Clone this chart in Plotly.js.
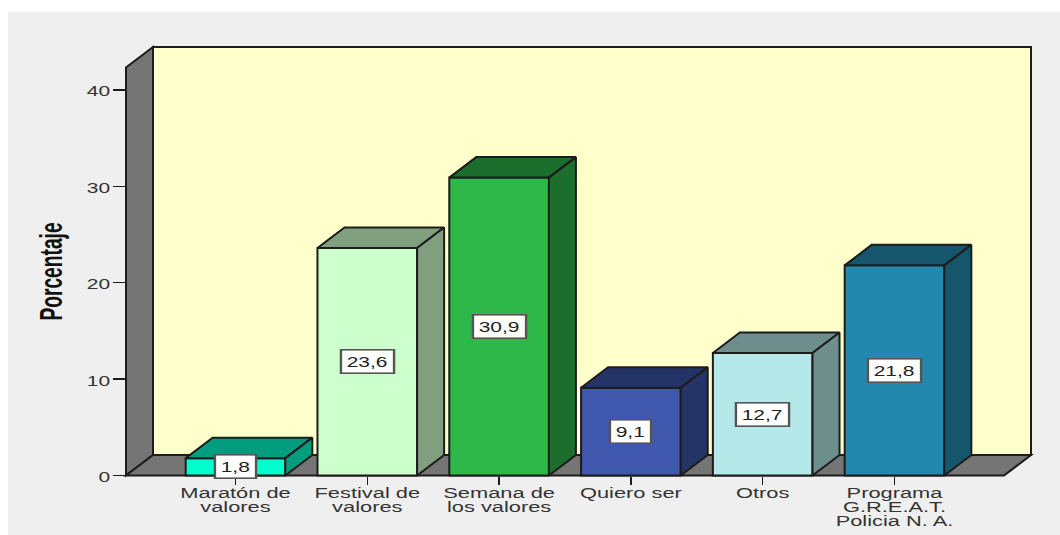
<!DOCTYPE html>
<html>
<head>
<meta charset="utf-8">
<script src="https://cdn.plot.ly/plotly-3.0.1.min.js"></script>
<style>
html,body{margin:0;padding:0;background:#fff;overflow:hidden}
#chart{position:absolute;left:8px;top:12px;width:1052px;height:523px}
g.xtick{transform-box:fill-box;transform-origin:center;transform:translate(0,-3px) scaleX(1.56)}
g.ytick{transform-box:fill-box;transform-origin:right center;transform:translate(0,1.5px) scaleX(1.5)}
.g-ytitle{transform-box:fill-box;transform-origin:center;transform:translate(6.5px,10px) scaleY(0.6)}
.annotation{transform-box:fill-box;transform-origin:center;transform:scaleX(1.5)}
</style>
</head>
<body>
<div id="chart"></div>
<script>
var categories = ["Maratón de<br>valores","Festival de<br>valores","Semana de<br>los valores","Quiero ser","Otros","Programa<br>G.R.E.A.T.<br>Policia N. A."];
var values = [1.8,23.6,30.9,9.1,12.7,21.8];
var valueLabels = ["1,8","23,6","30,9","9,1","12,7","21,8"];
var frontColors = ["#00ffcc","#ccffcc","#2fb84a","#3f58ae","#b5e8e8","#2288ae"];
var sideColors  = ["#009e7f","#7f9f7f","#1c6e2c","#253467","#6e8e8e","#15566c"];
var yTicks = [0,10,20,30,40];

// page-pixel calibration of the category and value scales
var pxX0 = 235.5, pxPerCat = 131.8, pxY0 = 475.5, pxPerUnit = 9.64;
var plotL = 122, plotR = 1035, plotT = 43, plotB = 480;
var wallL = (126-pxX0)/pxPerCat, wallR = (1031-pxX0)/pxPerCat;
var depthX = 27/pxPerCat, depthY = 20.5/pxPerUnit;
var wallTop = (475.5-47)/pxPerUnit;
var barWidth = 0.756;
var edge = "#1c1c1c";

function path(pts){return "M"+pts.map(function(p){return p[0]+","+p[1];}).join(" L")+" Z";}
function wall(pts,fill){return {type:"path",xref:"x",yref:"y",layer:"below",path:path(pts),fillcolor:fill,line:{color:edge,width:2}};}
var shapes = [
  wall([[wallL+depthX,depthY],[wallR,depthY],[wallR,wallTop],[wallL+depthX,wallTop]],"#ffffcc"),
  wall([[wallL,0],[wallL+depthX,depthY],[wallL+depthX,wallTop],[wallL,wallTop-depthY]],"#757575"),
  wall([[wallL,0],[wallL+depthX,depthY],[wallR,depthY],[wallR-depthX,0]],"#757575")
];

var idx = categories.map(function(c,i){return i;});
var traces = [{
  type:"bar",x:idx,y:values,width:barWidth,cliponaxis:false,
  marker:{color:frontColors,line:{color:edge,width:2}},hoverinfo:"skip",showlegend:false
}];
values.forEach(function(v,i){
  var l=i-barWidth/2,r=i+barWidth/2;
  var faces=[
    [[l,v],[l+depthX,v+depthY],[r+depthX,v+depthY],[r,v],[l,v]],
    [[r,0],[r+depthX,depthY],[r+depthX,v+depthY],[r,v],[r,0]]
  ];
  faces.forEach(function(f){
    traces.push({type:"scatter",mode:"lines",x:f.map(function(p){return p[0];}),y:f.map(function(p){return p[1];}),
      fill:"toself",fillcolor:sideColors[i],line:{color:edge,width:2},hoverinfo:"skip",showlegend:false});
  });
});

var annotations = values.map(function(v,i){
  return {x:i,y:v/2,xref:"x",yref:"y",text:valueLabels[i],showarrow:false,
    font:{family:"Liberation Sans",size:14,color:"#222"},bgcolor:"#ffffff",bordercolor:"#555",borderwidth:1.6,borderpad:3};
});

var layout = {
  width:1052,height:523,paper_bgcolor:"#efefef",plot_bgcolor:"rgba(0,0,0,0)",showlegend:false,
  margin:{l:plotL-8,r:1060-plotR,t:plotT-12,b:535-plotB,pad:0},
  font:{family:"Liberation Sans",size:14,color:"#222"},
  xaxis:{type:"linear",range:[(plotL-pxX0)/pxPerCat,(plotR-pxX0)/pxPerCat],tickmode:"array",tickvals:idx,ticktext:categories,
    tickangle:0,ticks:"outside",ticklen:8,tickwidth:1.5,tickcolor:edge,showgrid:false,zeroline:false,showline:false,
    anchor:"free",position:(plotB-pxY0)/(plotB-plotT),tickfont:{family:"Liberation Sans",size:14,color:"#333"}},
  yaxis:{type:"linear",range:[(pxY0-plotB)/pxPerUnit,(pxY0-plotT)/pxPerUnit],tickmode:"array",tickvals:yTicks,
    ticks:"outside",ticklen:13,tickwidth:1.5,tickcolor:edge,showgrid:false,zeroline:false,showline:false,
    anchor:"free",position:(126-plotL)/(plotR-plotL),tickfont:{family:"Liberation Sans",size:14,color:"#333"},
    title:{text:"Porcentaje",font:{family:"Liberation Sans",size:32,color:"#111",weight:"bold"},standoff:20}},
  shapes:shapes,annotations:annotations
};

var gd=document.getElementById("chart");
function tighten(){
  gd.querySelectorAll("g.xtick text").forEach(function(txt){
    txt.querySelectorAll("tspan.line").forEach(function(t,i){t.setAttribute("dy",(i*14)+"px");});
  });
}
Plotly.newPlot(gd,traces,layout,{displayModeBar:false,staticPlot:true}).then(function(){
  tighten(); gd.on("plotly_afterplot",tighten);
});
</script>
</body>
</html>
